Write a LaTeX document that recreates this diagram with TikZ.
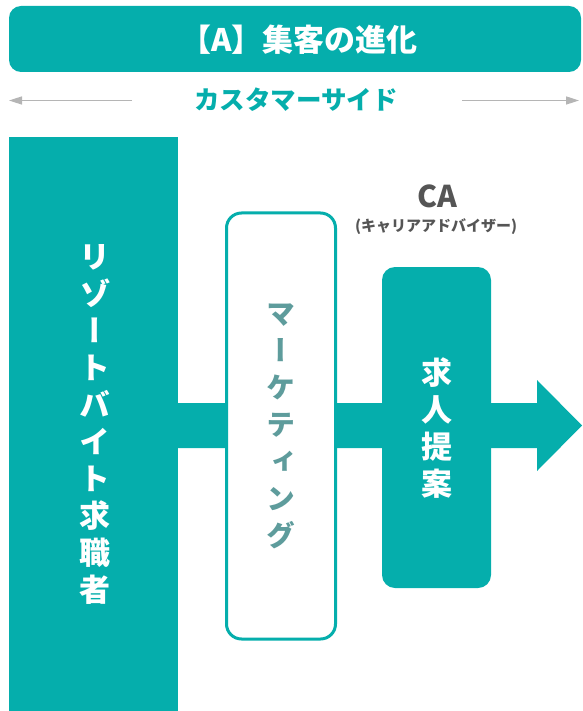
\documentclass[tikz,border=0pt]{standalone}
\usepackage{fontspec}
\setmainfont{Noto Sans CJK JP}
\newfontfamily\vjp{Noto Sans CJK JP}[RawFeature=+vert]
\usetikzlibrary{arrows.meta}
\definecolor{teal1}{HTML}{05AEAC}
\definecolor{mtext}{HTML}{5E9C9C}
\definecolor{garrow}{HTML}{B5B5B5}
\definecolor{catext}{HTML}{555555}
\tikzset{
  vtext/.style={align=center, inner sep=0pt, font=\vjp\bfseries\fontsize{31}{37}\selectfont},
  sidearrow/.style={draw=garrow, line width=1.6pt, -{Triangle[length=13pt,width=8pt]}},
}
\begin{document}
\begin{tikzpicture}[x=1pt,y=-1pt]
\useasboundingbox (0,0) rectangle (582,711);
% title banner
\node[fill=teal1, rounded corners=12pt, minimum width=572pt, minimum height=66pt, inner sep=0pt] (banner) at (295,39) {};
\node[text=white, font=\bfseries\fontsize{31}{34}\selectfont, inner sep=0pt] (title) at (299,40) {【A】集客の進化};
% customer side
\node[text=teal1, font=\bfseries\fontsize{25.5}{28}\selectfont, inner sep=0pt] (side) at (296,100) {カスタマーサイド};
\coordinate (la) at (132,100.5);
\coordinate (lb) at (9,100.5);
\coordinate (ra) at (462,100.5);
\coordinate (rb) at (579,100.5);
\draw[sidearrow] (la) -- (lb);
\draw[sidearrow] (ra) -- (rb);
% big arrow
\coordinate (a1) at (170,403);
\coordinate (a2) at (537,403);
\coordinate (a3) at (537,380);
\coordinate (a4) at (582,425.5);
\coordinate (a5) at (537,471);
\coordinate (a6) at (537,448);
\coordinate (a7) at (170,448);
\fill[teal1] (a1) -- (a2) -- (a3) -- (a4) -- (a5) -- (a6) -- (a7) -- cycle;
% left column
\node[fill=teal1, minimum width=169pt, minimum height=574pt, inner sep=0pt, anchor=north west] (seeker) at (9,137) {};
\node[vtext, text=white] (seekert) at (95,424) {リ\\ゾ\\ー\\ト\\バ\\イ\\ト\\求\\職\\者};
% marketing
\node[draw=teal1, line width=3pt, fill=white, rounded corners=15pt, minimum width=109pt, minimum height=426pt, inner sep=0pt] (mkt) at (281,426) {};
\node[vtext, text=mtext, font=\vjp\bfseries\fontsize{29}{37}\selectfont] (mktt) at (281,426) {マ\\ー\\ケ\\テ\\ィ\\ン\\グ};
% CA
\node[fill=teal1, rounded corners=13pt, minimum width=109pt, minimum height=321pt, inner sep=0pt] (ca) at (436.5,427.5) {};
\node[vtext, text=white] (cat) at (437,428) {求\\人\\提\\案};
\node[text=catext, font=\bfseries\fontsize{30}{32}\selectfont, inner sep=0pt] (calabel) at (437,196) {CA};
\node[text=catext, font=\bfseries\fontsize{15}{17}\selectfont, inner sep=0pt] (casub) at (436,227) {(キャリアアドバイザー)};
\end{tikzpicture}
\end{document}
